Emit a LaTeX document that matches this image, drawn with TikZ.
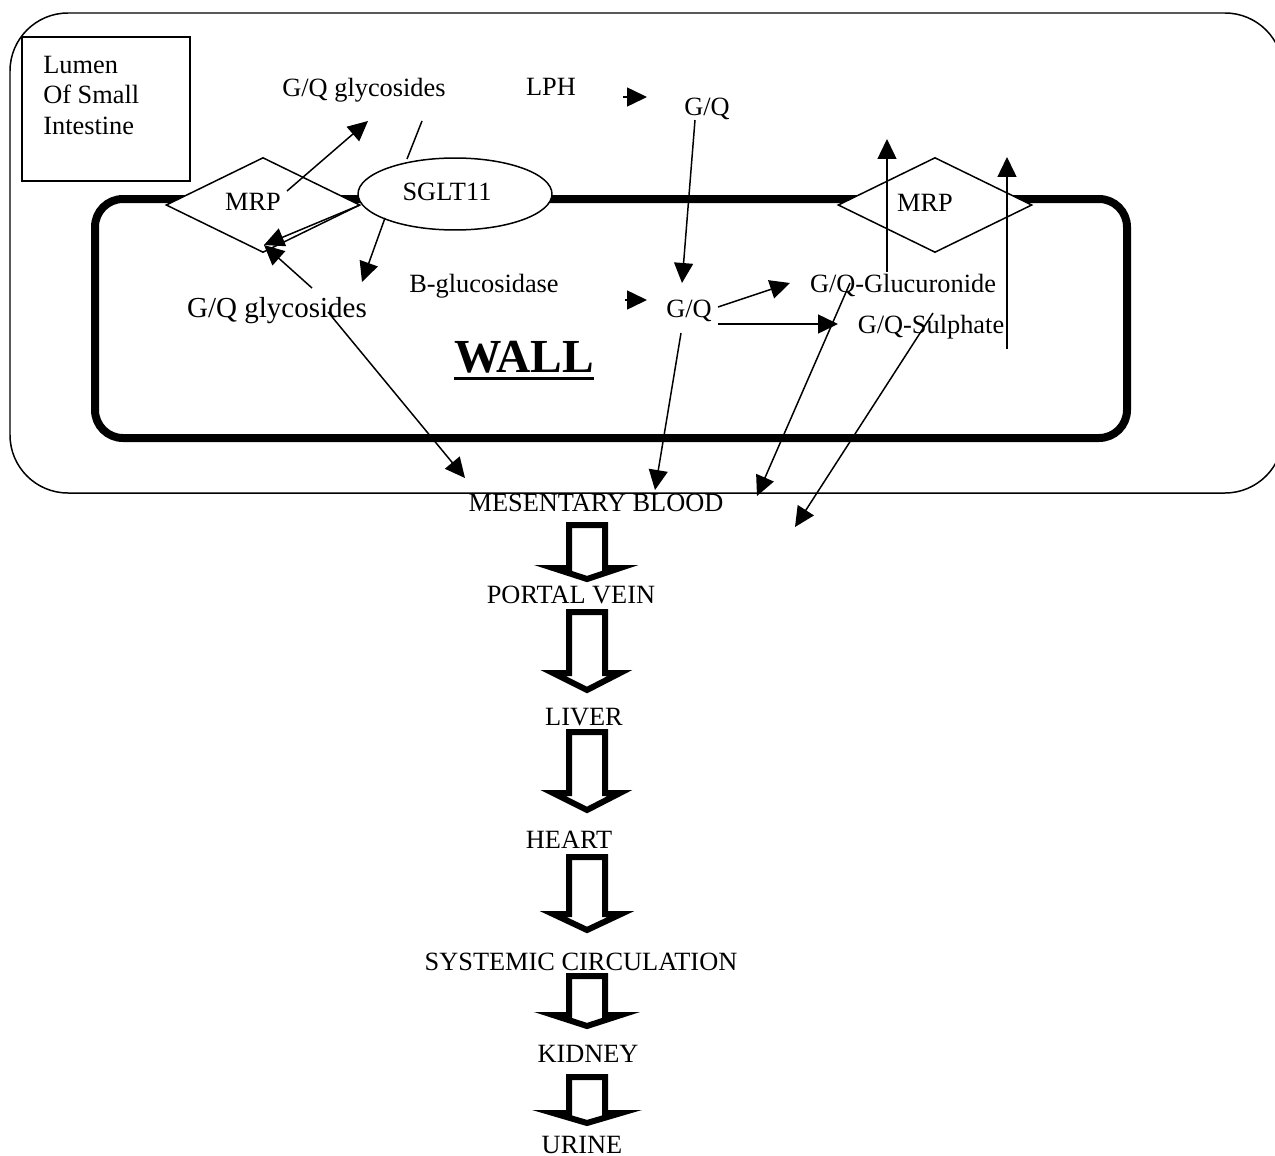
\documentclass[tikz,border=0pt]{standalone}
\usepackage{fontspec}
\setmainfont{Liberation Serif}
\usetikzlibrary{arrows.meta, shapes.geometric}

\tikzset{
  lbl/.style={font=\fontsize{15}{18}\selectfont, inner sep=0pt, anchor=base},
  flow/.style={-{Triangle[length=0.4cm, width=0.38cm]}, line width=0.85pt},
  thin/.style={line width=0.85pt},
  wallbox/.style={line width=0.16cm, rounded corners=0.56cm},
  mrpbox/.style={draw, diamond, fill=white, line width=0.85pt, inner sep=0pt,
    minimum width=3.88cm, minimum height=1.9cm},
  bigarrow/.style={line width=0.12cm},
}

\begin{document}
\begin{tikzpicture}[x=0.02cm, y=-0.02cm]
  \clip (0,0) rectangle (1275,1156);
  % lumen and the gut wall
  \draw[thin, rounded corners=1.16cm] (10,13) rectangle (1283,493);
  \draw[wallbox] (95,199) rectangle (1127,438);
  \draw[thin] (22,37) rectangle (190,181);
  \node[lbl, anchor=base west] (lumA) at (43,73) {Lumen};
  \node[lbl, anchor=base west] (lumB) at (43,103) {Of Small};
  \node[lbl, anchor=base west] (lumC) at (43,134) {Intestine};
  % transporters sitting in the wall
  \node[mrpbox] (mrpL) at (263,205) {};
  \node[lbl] (mrpLtxt) at (253,210) {MRP};
  \node[draw, ellipse, fill=white, thin, minimum width=3.88cm,
    minimum height=1.44cm] (sglt) at (455,194) {};
  \node[lbl] (sgltTxt) at (447,200) {SGLT11};
  \node[mrpbox] (mrpR) at (935,205) {};
  \node[lbl] (mrpRtxt) at (925,211) {MRP};
  % labels
  \node[lbl] (glyTop) at (364,96) {G/Q glycosides};
  \node[lbl] (lph) at (551,95) {LPH};
  \node[lbl] (gqTop) at (707,115) {G/Q};
  \node[lbl] (bgluc) at (484,292) {B-glucosidase};
  \node[lbl, font=\fontsize{16.5}{19}\selectfont] (glyLow) at (277,317)
    {G/Q glycosides};
  \node[lbl] (gq) at (689,317) {G/Q};
  \node[lbl] (glucur) at (903,292) {G/Q-Glucuronide};
  \node[lbl] (sulph) at (931,333) {G/Q-Sulphate};
  \node[lbl, font=\fontsize{27}{30}\selectfont\bfseries] (wall) at (524,372)
    {WALL};
  \draw[line width=0.06cm] ([yshift=-0.12cm]wall.base west)
    -- ([yshift=-0.12cm]wall.base east);
  % ---------- free ends of the thin arrows ----------
  \coordinate (mrpLout) at (287,191);
  \coordinate (glyTopIn) at (368,121);
  \coordinate (glyTopOut) at (422,121);
  \coordinate (sgltTop) at (407,159);
  \coordinate (sgltL) at (360,205);
  \coordinate (mrpLin) at (264,245);
  \coordinate (glyLowUp) at (312,288);
  \coordinate (sgltDown) at (385,218);
  \coordinate (bglucIn) at (362,282);
  \coordinate (lphA) at (623,97);
  \coordinate (lphB) at (647,97);
  \coordinate (gqTopOut) at (695,120);
  \coordinate (gqIn) at (682,283);
  \coordinate (bglucA) at (625,300);
  \coordinate (bglucB) at (647,300);
  \coordinate (gqOutA) at (718,307);
  \coordinate (glucurIn) at (790,283);
  \coordinate (gqOutB) at (718,324);
  \coordinate (sulphIn) at (838,324);
  \coordinate (glucurUp) at (887,272);
  \coordinate (glucurTip) at (887,139);
  \coordinate (sulphUp) at (1007,349);
  \coordinate (sulphTip) at (1007,157);
  \coordinate (glyLowDown) at (328,312);
  \coordinate (mesA) at (465,478);
  \coordinate (gqDown) at (681,333);
  \coordinate (mesB) at (655,490);
  \coordinate (glucurDown) at (850,283);
  \coordinate (mesC) at (757,496);
  \coordinate (sulphDown) at (933,313);
  \coordinate (mesD) at (795,527);
  % ---------- thin arrows ----------
  \draw[flow] (mrpLout) -- (glyTopIn);
  \draw[thin] (glyTopOut) -- (sgltTop);
  \draw[flow] (sgltL) -- (mrpLin);
  \draw[flow] (glyLowUp) -- (mrpLin);
  \draw[flow] (sgltDown) -- (bglucIn);
  \draw[flow] (lphA) -- (lphB);
  \draw[flow] (gqTopOut) -- (gqIn);
  \draw[flow] (bglucA) -- (bglucB);
  \draw[flow] (gqOutA) -- (glucurIn);
  \draw[flow] (gqOutB) -- (sulphIn);
  \draw[flow] (glucurUp) -- (glucurTip);
  \draw[flow] (sulphUp) -- (sulphTip);
  \draw[flow] (glyLowDown) -- (mesA);
  \draw[flow] (gqDown) -- (mesB);
  \draw[flow] (glucurDown) -- (mesC);
  \draw[flow] (sulphDown) -- (mesD);
  % ---------- the way out ----------
  \node[lbl] (mes) at (596,511) {MESENTARY BLOOD};
  \node[lbl] (portal) at (571,603) {PORTAL VEIN};
  \node[lbl] (liver) at (584,725) {LIVER};
  \node[lbl] (heart) at (569,848) {HEART};
  \node[lbl] (sys) at (581,970) {SYSTEMIC CIRCULATION};
  \node[lbl] (kidney) at (588,1062) {KIDNEY};
  \node[lbl] (urine) at (582,1153) {URINE};
  \draw[bigarrow] (569,525) -- (605,525) -- (605,568) -- (620,568)
    -- (587,579) -- (553,568) -- (569,568) -- cycle;
  \draw[bigarrow] (569,612) -- (605,612) -- (605,673) -- (620,673)
    -- (587,690) -- (553,673) -- (569,673) -- cycle;
  \draw[bigarrow] (569,732) -- (605,732) -- (605,793) -- (620,793)
    -- (587,810) -- (553,793) -- (569,793) -- cycle;
  \draw[bigarrow] (569,857) -- (605,857) -- (605,914) -- (621,914)
    -- (587,930) -- (553,914) -- (569,914) -- cycle;
  \draw[bigarrow] (569,976) -- (605,976) -- (605,1015) -- (621,1015)
    -- (587,1026) -- (553,1015) -- (569,1015) -- cycle;
  \draw[bigarrow] (569,1077) -- (605,1077) -- (605,1113) -- (621,1113)
    -- (587,1123) -- (553,1113) -- (569,1113) -- cycle;
\end{tikzpicture}
\end{document}
